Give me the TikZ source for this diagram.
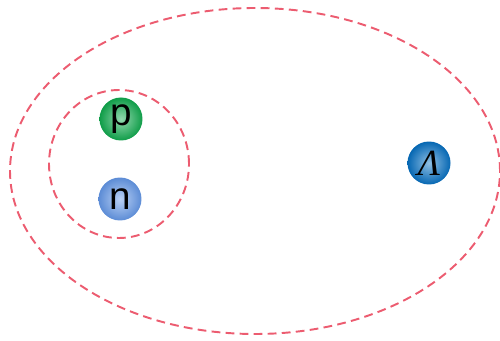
\documentclass[tikz,border=0pt]{standalone}
\usepackage{fontspec}
\setmainfont{Liberation Sans}
\newfontfamily\lamfont{Liberation Serif}
\usepackage{tikz}
\usetikzlibrary{positioning}

\definecolor{shellred}{RGB}{236,92,112}
\definecolor{progreen}{RGB}{16,170,78}
\definecolor{neublue}{RGB}{100,152,232}
\definecolor{lamblue}{RGB}{6,112,194}

\begin{document}
\begin{tikzpicture}[
  x=0.02cm, y=0.02cm,
  shell/.style={draw=shellred, line width=1.1pt,
                dash pattern=on 5pt off 3pt},
  ball/.style={circle, minimum size=0.86cm, inner sep=0pt,
               shading=radial, inner color=#1!45!white,
               outer color=#1!92!black,
               font=\fontsize{22}{24}\selectfont},
]
\useasboundingbox (0,0) rectangle (500,341);

%% ---- Shells ----
\draw[shell] (255,170) ellipse [x radius=245, y radius=163];
\draw[shell] (119,177) ellipse [x radius=70, y radius=74];

%% ---- Nucleons ----
\node[ball=progreen] (pro) at (121,222) {\raisebox{-2pt}{p}};
\node[ball=neublue]  (neu) at (120,142) {n};

%% ---- Hyperon ----
\node[ball=lamblue, font=\fontsize{21}{24}\lamfont\itshape]
  (lam) at (429,178) {Λ};

\end{tikzpicture}
\end{document}
